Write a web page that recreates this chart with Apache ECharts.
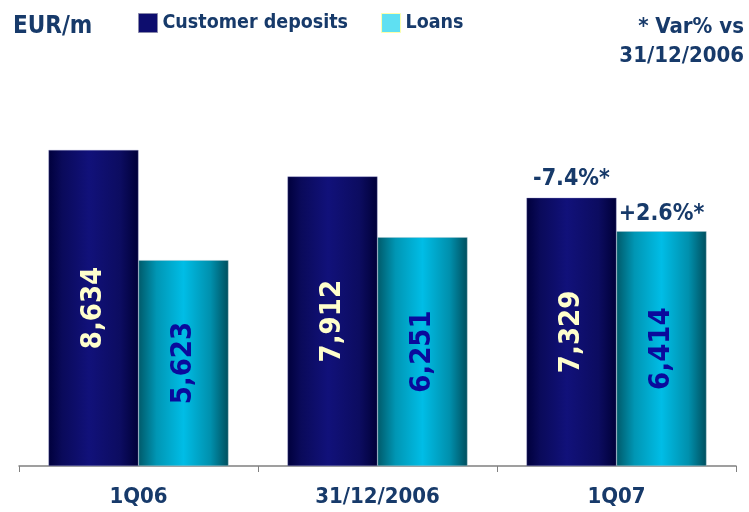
<!DOCTYPE html>
<html>
<head>
<meta charset="utf-8">
<script src="https://cdn.jsdelivr.net/npm/echarts@6/dist/echarts.min.js"></script>
<style>
  html, body { margin: 0; padding: 0; background: #fff; }
  #main { width: 749px; height: 512px; }
</style>
</head>
<body>
<div id="main"></div>
<script>
const categories = ['1Q06', '31/12/2006', '1Q07'];
const deposits = [8634, 7912, 7329];
const loans = [5623, 6251, 6414];
const depositsVar = ['', '', '-7.4%*'];
const loansVar = ['', '', '+2.6%*'];

const navy = '#173a6a';
const font = '"DejaVu Sans Condensed", "DejaVu Sans", sans-serif';

const depGrad = new echarts.graphic.LinearGradient(0, 0, 1, 0, [
  { offset: 0, color: '#00003c' },
  { offset: 0.15, color: '#0a0a5a' },
  { offset: 0.45, color: '#11117a' },
  { offset: 0.8, color: '#0c0c60' },
  { offset: 1, color: '#000038' }
]);
const loanGrad = new echarts.graphic.LinearGradient(0, 0, 1, 0, [
  { offset: 0, color: '#005a6a' },
  { offset: 0.2, color: '#0096b4' },
  { offset: 0.5, color: '#00bde6' },
  { offset: 0.8, color: '#0090ad' },
  { offset: 1, color: '#004f5e' }
]);

const fmtNum = v => v.toLocaleString('en-US');

var myChart = echarts.init(document.getElementById('main'));
var option = {
  animation: false,
  title: [
    {
      text: 'EUR/m', left: 8, top: 10,
      textStyle: { color: navy, fontFamily: font, fontSize: 24, fontWeight: 'bold' }
    },
    {
      text: '* Var% vs', right: 0, top: 11,
      textStyle: { color: navy, fontFamily: font, fontSize: 22, fontWeight: 'bold' }
    },
    {
      text: '31/12/2006', right: 0, top: 40,
      textStyle: { color: navy, fontFamily: font, fontSize: 22, fontWeight: 'bold' }
    }
  ],
  legend: {
    left: 133, top: 8,
    itemWidth: 19, itemHeight: 19, itemGap: 33,
    textStyle: { color: navy, fontFamily: font, fontSize: 19.5, fontWeight: 'bold' },
    data: [
      { name: 'Customer deposits', icon: 'rect', itemStyle: { color: '#0d0d6e', borderColor: '#8888aa', borderWidth: 1 } },
      { name: 'Loans', icon: 'rect', itemStyle: { color: '#5fe0f2', borderColor: '#ffffaa', borderWidth: 1 } }
    ]
  },
  grid: { left: 19, right: 13, top: 100, bottom: 46 },
  xAxis: {
    type: 'category',
    data: categories,
    axisLine: { lineStyle: { color: '#808080', width: 1.5 } },
    axisTick: { show: true, length: 6, lineStyle: { color: '#808080' } },
    axisLabel: { color: navy, fontFamily: font, fontSize: 22, fontWeight: 'bold', margin: 20 }
  },
  yAxis: { type: 'value', min: 0, max: 10000, show: false, splitLine: { show: false } },
  series: [
    {
      name: 'Customer deposits', type: 'bar', stack: 'dep', barWidth: 90, barGap: '0%',
      data: deposits,
      itemStyle: { color: depGrad, borderColor: 'rgba(140,140,200,0.7)', borderWidth: 0.5 },
      label: {
        show: true, position: 'inside', rotate: 90,
        color: '#ffffcc', fontFamily: font, fontSize: 29, fontWeight: 'bold',
        formatter: p => fmtNum(p.value)
      }
    },
    {
      name: 'Loans', type: 'bar', stack: 'loan', barWidth: 90, barGap: '0%',
      data: loans,
      itemStyle: { color: loanGrad, borderColor: 'rgba(170,200,210,0.8)', borderWidth: 0.5 },
      label: {
        show: true, position: 'inside', rotate: 90,
        color: '#0a0a9c', fontFamily: font, fontSize: 29, fontWeight: 'bold',
        formatter: p => fmtNum(p.value)
      }
    },
    {
      name: 'depVar', type: 'bar', stack: 'dep', barWidth: 90,
      data: depositsVar.map(() => 0),
      itemStyle: { color: 'transparent' },
      label: {
        show: true, position: 'top', distance: 7,
        color: navy, fontFamily: font, fontSize: 23, fontWeight: 'bold',
        formatter: p => depositsVar[p.dataIndex]
      }
    },
    {
      name: 'loanVar', type: 'bar', stack: 'loan', barWidth: 90,
      data: loansVar.map(() => 0),
      itemStyle: { color: 'transparent' },
      label: {
        show: true, position: 'top', distance: 6,
        color: navy, fontFamily: font, fontSize: 23, fontWeight: 'bold',
        formatter: p => loansVar[p.dataIndex]
      }
    }
  ]
};
option && myChart.setOption(option);
</script>
</body>
</html>
